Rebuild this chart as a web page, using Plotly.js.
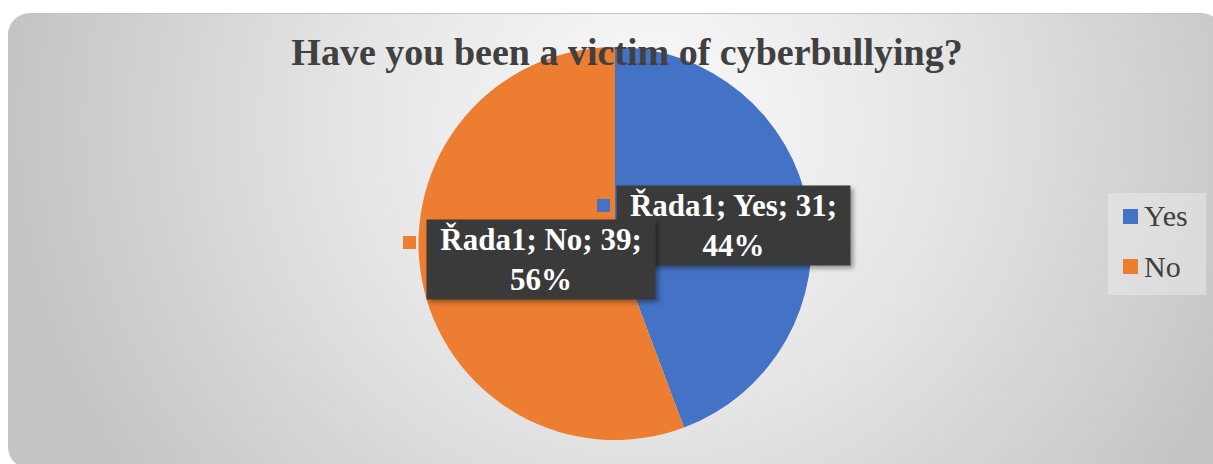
<!DOCTYPE html>
<html>
<head>
<meta charset="utf-8">
<script src="https://cdn.plot.ly/plotly-3.0.1.min.js"></script>
<style>
  html, body { margin: 0; padding: 0; background: #ffffff; width: 1213px; height: 464px; overflow: hidden; }
  #bg {
    position: absolute; left: 8px; top: 13px; width: 1215px; height: 455px;
    border-radius: 22px;
    border-top: 1px solid #c2c2c2;
    background: radial-gradient(ellipse 640px 620px at 640px 110px, #fafafa 0%, #e6e6e6 45%, #c4c4c4 100%);
  }
  #chart { position: absolute; left: 0; top: 0; width: 1213px; height: 464px; }
  .annotation rect.bg { filter: drop-shadow(3px 3px 2px rgba(0,0,0,0.35)); }
</style>
</head>
<body>
<div id="bg"></div>
<div id="chart"></div>
<script>
// ---- data ----
const chartTitle = 'Have you been a victim of cyberbullying?';
const seriesName = 'Řada1';
const labels = ['Yes', 'No'];
const values = [31, 39];
const colors = ['#4472C4', '#ED7D31'];

const W = 1213, H = 464;
const px = x => x / W;
const py = y => 1 - y / H;
const total = values.reduce((a, b) => a + b, 0);
const pct = values.map(v => Math.round(v / total * 100));

const trace = {
  type: 'pie',
  labels: labels,
  values: values,
  marker: { colors: colors, line: { width: 0 } },
  sort: false,
  direction: 'clockwise',
  rotation: 0,
  textinfo: 'none',
  hoverinfo: 'label+value+percent',
  showlegend: false,
  domain: { x: [px(615) - 0.2, px(615) + 0.2], y: [py(440), py(47)] }
};

// data label boxes (Yes first, No drawn on top)
const labelPos = [
  { x: 733, y: 225, w: 229, kx: 597, ky: 199 },
  { x: 541, y: 259, w: 224, kx: 403, ky: 236 }
];
const annotations = [];
const shapes = [];
labels.forEach((lab, i) => {
  const p = labelPos[i];
  annotations.push({
    xref: 'paper', yref: 'paper', x: px(p.x), y: py(p.y),
    xanchor: 'center', yanchor: 'middle', showarrow: false,
    text: seriesName + '; ' + lab + '; ' + values[i] + ';<br>' + pct[i] + '%',
    font: { family: 'Liberation Serif, Times New Roman, serif', size: 31, color: '#ffffff', weight: 'bold' },
    bgcolor: '#3a3a3a', borderpad: 2, align: 'center', width: p.w
  });
  shapes.push({
    type: 'rect', xref: 'paper', yref: 'paper',
    x0: px(p.kx), x1: px(p.kx + 13), y0: py(p.ky + 13), y1: py(p.ky),
    fillcolor: colors[i], line: { width: 0 }
  });
});

// manual legend
shapes.push({
  type: 'rect', xref: 'paper', yref: 'paper',
  x0: px(1108), x1: px(1206), y0: py(295), y1: py(193),
  fillcolor: 'rgba(240,240,240,0.45)', line: { width: 0 }, layer: 'below'
});
labels.forEach((lab, i) => {
  const cy = 216 + i * 50;
  shapes.push({
    type: 'rect', xref: 'paper', yref: 'paper',
    x0: px(1123), x1: px(1138), y0: py(cy + 8), y1: py(cy - 7),
    fillcolor: colors[i], line: { width: 0 }
  });
  annotations.push({
    xref: 'paper', yref: 'paper', x: px(1142), y: py(cy),
    xanchor: 'left', yanchor: 'middle', showarrow: false,
    text: lab,
    font: { family: 'Liberation Serif, Times New Roman, serif', size: 30, color: '#404040' }
  });
});

const layout = {
  width: W, height: H,
  margin: { l: 0, r: 0, t: 0, b: 0 },
  paper_bgcolor: 'rgba(0,0,0,0)',
  plot_bgcolor: 'rgba(0,0,0,0)',
  title: {
    text: chartTitle,
    x: px(627), xanchor: 'center', xref: 'paper',
    y: py(52), yanchor: 'middle', yref: 'container',
    font: { family: 'Liberation Serif, Times New Roman, serif', size: 38, color: '#404040', weight: 'bold' }
  },
  showlegend: false,
  annotations: annotations,
  shapes: shapes
};

Plotly.newPlot('chart', [trace], layout, { displayModeBar: false, staticPlot: true });
</script>
</body>
</html>
